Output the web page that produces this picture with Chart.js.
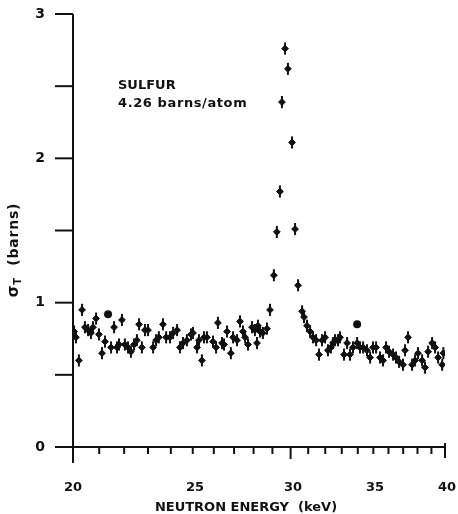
<!DOCTYPE html>
<html>
<head>
<meta charset="utf-8">
<script src="https://cdn.jsdelivr.net/npm/chart.js@4.4.1/dist/chart.umd.min.js"></script>
<style>
    html, body { margin: 0; padding: 0; background: #fff; }
    canvas { display: block; }
</style>
</head>
<body>
<canvas id="sulfurChart" width="458" height="514"></canvas>
<script>
// neutron energy (keV) and total cross section (barns)
const energy = [
    20.04, 20.11, 20.22, 20.34, 20.45, 20.57, 20.68, 20.76, 20.88, 20.99,
    21.11, 21.23, 21.47, 21.59, 21.71, 21.79, 21.91, 22.03, 22.16, 22.28,
    22.41, 22.53, 22.62, 22.74, 22.87, 23.00, 23.22, 23.35, 23.47, 23.65,
    23.79, 23.96, 24.10, 24.28, 24.41, 24.55, 24.73, 24.92, 25.01, 25.20,
    25.29, 25.43, 25.53, 25.67, 25.96, 26.11, 26.20, 26.40, 26.50, 26.65,
    26.84, 26.95, 27.15, 27.30, 27.45, 27.56, 27.71, 27.92, 28.07, 28.18,
    28.23, 28.34, 28.49, 28.71, 28.87, 29.08, 29.24, 29.41, 29.52, 29.69,
    29.85, 30.08, 30.25, 30.42, 30.65, 30.76, 30.93, 31.11, 31.28, 31.46,
    31.63, 31.81, 31.99, 32.16, 32.34, 32.47, 32.59, 32.77, 32.89, 33.14,
    33.33, 33.51, 33.70, 33.96, 34.14, 34.34, 34.59, 34.79, 34.98, 35.18,
    35.44, 35.64, 35.84, 36.04, 36.31, 36.51, 36.72, 36.99, 37.13, 37.34,
    37.62, 37.83, 38.04, 38.33, 38.54, 38.76, 39.05, 39.27, 39.49, 39.79,
    39.88
];
const sigmaT = [
    0.80, 0.76, 0.60, 0.95, 0.83, 0.81, 0.79, 0.83, 0.89, 0.78,
    0.65, 0.73, 0.69, 0.83, 0.69, 0.71, 0.88, 0.71, 0.69, 0.66,
    0.71, 0.74, 0.85, 0.69, 0.81, 0.81, 0.69, 0.74, 0.76, 0.85,
    0.76, 0.76, 0.79, 0.81, 0.69, 0.72, 0.74, 0.78, 0.79, 0.69,
    0.74, 0.60, 0.76, 0.76, 0.73, 0.69, 0.86, 0.72, 0.71, 0.80,
    0.65, 0.76, 0.74, 0.87, 0.80, 0.76, 0.71, 0.83, 0.81, 0.72,
    0.84, 0.80, 0.79, 0.82, 0.95, 1.19, 1.49, 1.77, 2.39, 2.76,
    2.62, 2.11, 1.51, 1.12, 0.94, 0.90, 0.84, 0.80, 0.76, 0.74,
    0.64, 0.74, 0.76, 0.67, 0.69, 0.72, 0.74, 0.74, 0.76, 0.64,
    0.72, 0.64, 0.69, 0.72, 0.69, 0.69, 0.67, 0.62, 0.69, 0.69,
    0.62, 0.60, 0.69, 0.66, 0.64, 0.62, 0.59, 0.57, 0.67, 0.76,
    0.57, 0.60, 0.65, 0.60, 0.55, 0.66, 0.72, 0.69, 0.62, 0.57,
    0.65
];
const sigmaErr = 0.042;

// the two round dots
const dotEnergy = [21.35, 33.96];
const dotSigma = [0.92, 0.85];

const xTicks = [20, 21, 22, 23, 24, 25, 26, 27, 28, 29, 30, 31, 32, 33, 34, 35, 36, 37, 38, 39, 40];
const xLabels = ["20", "25", "30", "35", "40"];
const yTicks = [0, 0.5, 1, 1.5, 2, 2.5, 3];
const yLabels = [0, 1, 2, 3];

const ink = "#111";
const fontFamily = "'DejaVu Sans', sans-serif";

const errorBars = {
    id: "errorBars",
    afterDatasetsDraw(chart) {
        const { ctx } = chart;
        const { x, y } = chart.scales;
        ctx.save();
        ctx.strokeStyle = ink;
        ctx.lineWidth = 2;
        energy.forEach((e, i) => {
            const px = x.getPixelForValue(e);
            ctx.beginPath();
            ctx.moveTo(px, y.getPixelForValue(sigmaT[i] - sigmaErr));
            ctx.lineTo(px, y.getPixelForValue(sigmaT[i] + sigmaErr));
            ctx.stroke();
        });
        ctx.restore();
    },
};

const axesFrame = {
    id: "axesFrame",
    afterDraw(chart) {
        const { ctx, chartArea: a } = chart;
        const { x, y } = chart.scales;
        const seg = (x0, y0, x1, y1) => {
            ctx.beginPath();
            ctx.moveTo(x0, y0);
            ctx.lineTo(x1, y1);
            ctx.stroke();
        };

        ctx.save();
        ctx.strokeStyle = ink;
        ctx.lineWidth = 2;

        // axis lines
        seg(a.left, a.top, a.left, a.bottom + 16);
        seg(a.left - 18, a.bottom, a.right, a.bottom);

        // y ticks point left
        yTicks.forEach((v) => {
            const py = y.getPixelForValue(v);
            seg(a.left - 18, py, a.left, py);
        });

        // x ticks point down, 30 and 40 a bit longer
        xTicks.forEach((v) => {
            if (v === 20) return;
            const px = x.getPixelForValue(v);
            if (v === 40) seg(px, a.bottom - 4, px, a.bottom + 11);
            else if (v === 30) seg(px, a.bottom, px, a.bottom + 12);
            else seg(px, a.bottom, px, a.bottom + 7);
        });

        ctx.fillStyle = ink;
        ctx.font = "bold 13px " + fontFamily;
        ctx.textBaseline = "alphabetic";

        // x tick labels
        ctx.textAlign = "center";
        for (const lbl of xLabels) {
            const v = Number(lbl);
            const px = Math.round(x.getPixelForValue(v)) + (v === 20 ? 0 : 2);
            ctx.fillText(lbl, px, 491);
        }

        // annotation
        ctx.textBaseline = "middle";
        ctx.textAlign = "left";
        ctx.fillText("SULFUR", 118, 86);
        ctx.letterSpacing = "0.6px";
        ctx.fillText("4.26 barns/atom", 118, 104);
        ctx.letterSpacing = "0px";

        ctx.textAlign = "center";
        ctx.fillText("NEUTRON ENERGY  (keV)", 246, 508);

        // y title, rotated, with subscript T
        ctx.translate(14, 250);
        ctx.rotate(-Math.PI / 2);
        ctx.textAlign = "left";
        ctx.letterSpacing = "0.8px";
        const sig = "σ";
        const rest = "  (barns)";
        ctx.font = "bold 15px " + fontFamily;
        const wSig = ctx.measureText(sig).width;
        ctx.font = "bold 10px " + fontFamily;
        const wSub = ctx.measureText("T").width;
        ctx.font = "bold 14px " + fontFamily;
        const wRest = ctx.measureText(rest).width;
        let cx = -(wSig + wSub + wRest) / 2;
        ctx.font = "bold 15px " + fontFamily;
        ctx.fillText(sig, cx, 0);
        cx += wSig;
        ctx.font = "bold 10px " + fontFamily;
        ctx.fillText("T", cx, 4);
        cx += wSub;
        ctx.font = "bold 14px " + fontFamily;
        ctx.fillText(rest, cx, 0);

        ctx.restore();
    },
};

// keep label overflow from shrinking the plot area
const noScalePadding = (s) => {
    s.paddingTop = 0;
    s.paddingBottom = 0;
    s.paddingLeft = 0;
    s.paddingRight = 0;
};

new Chart(document.getElementById("sulfurChart"), {
    type: "scatter",
    data: {
        datasets: [
            {
                label: "sigma T",
                data: energy.map((e, i) => ({ x: e, y: sigmaT[i] })),
                pointStyle: "rectRot",
                pointRadius: 3.4,
                backgroundColor: ink,
                borderColor: ink,
                borderWidth: 1,
            },
            {
                label: "dots",
                data: dotEnergy.map((e, i) => ({ x: e, y: dotSigma[i] })),
                pointStyle: "circle",
                pointRadius: 4,
                backgroundColor: ink,
                borderColor: ink,
                borderWidth: 0,
            },
        ],
    },
    options: {
        responsive: false,
        animation: false,
        layout: { padding: { top: 14, right: 13, left: 0, bottom: 0 } },
        plugins: {
            legend: { display: false },
            tooltip: { enabled: false },
        },
        scales: {
            x: {
                type: "logarithmic",
                min: 20,
                max: 40,
                grid: { display: false, drawTicks: false },
                border: { display: false },
                afterBuildTicks: (s) => {
                    s.ticks = xTicks.map((v) => ({ value: v }));
                },
                afterFit: (s) => {
                    s.height = 67;
                    noScalePadding(s);
                },
                ticks: { display: false },
            },
            y: {
                min: 0,
                max: 3,
                grid: { display: false, drawTicks: false },
                border: { display: false },
                afterBuildTicks: (s) => {
                    s.ticks = yTicks.map((v) => ({ value: v }));
                },
                afterFit: (s) => {
                    s.width = 73;
                    noScalePadding(s);
                },
                ticks: {
                    autoSkip: false,
                    padding: 28,
                    color: ink,
                    font: { family: fontFamily, size: 14, weight: "bold" },
                    callback: (v) => (yLabels.includes(v) ? String(v) : ""),
                },
            },
        },
    },
    plugins: [errorBars, axesFrame],
});
</script>
</body>
</html>
